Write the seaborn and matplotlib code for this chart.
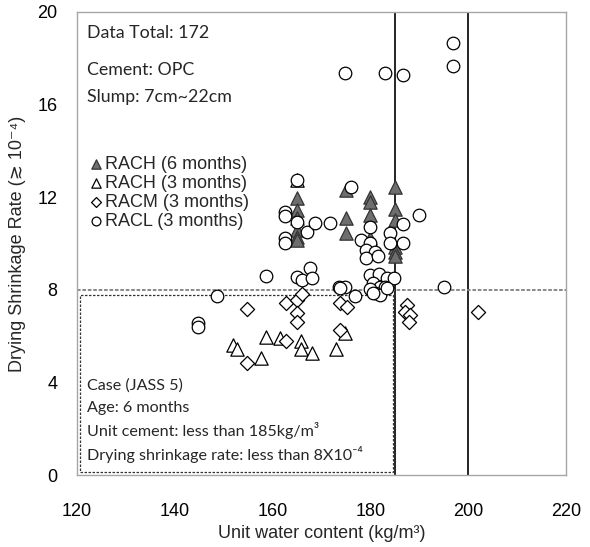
import matplotlib
matplotlib.use("Agg")
import matplotlib.pyplot as plt
import seaborn as sns
import pandas as pd
from matplotlib.patches import Rectangle

# ---------------- data ----------------
rach6_x = [165, 165, 165, 165, 165, 165, 175, 175, 175, 180, 180, 180, 180,
           185, 185, 185, 185, 185, 185]
rach6_y = [11.95, 11.45, 11.1, 10.6, 10.3, 10.15, 12.3, 11.1, 10.45, 12.0, 11.8, 11.23, 10.24,
           12.45, 11.5, 11.0, 9.85, 9.65, 9.45]

rach3_x = [165, 151.8, 152.8, 157.7, 158.7, 161.5, 165.9, 165.9, 168, 172.9, 174.8]
rach3_y = [12.75, 5.6, 5.45, 5.05, 5.95, 5.9, 5.8, 5.45, 5.25, 5.45, 6.15]

racm_x = [154.8, 154.8, 162.8, 162.8, 164.9, 166, 164.9, 164.9, 173.8, 175.2, 173.8,
          187.4, 187.1, 188.1, 187.8, 202]
racm_y = [7.16, 4.85, 7.42, 5.8, 7.56, 7.82, 7.01, 6.6, 7.42, 7.27, 6.26,
          7.34, 7.06, 6.91, 6.62, 7.03]

racl_x = [174.8, 182.9, 186.7, 196.9, 196.9,
          165, 162.5, 162.5, 165, 162.5, 162.5, 167, 168.6, 171.7, 176,
          180, 178, 180, 179.2, 181, 179, 181.5, 186.7, 184, 186.7, 184, 190,
          167.6, 164.9, 166, 168, 158.7, 148.6, 144.7, 144.7, 173.6, 174.8, 176.8,
          173.8, 180, 181.8, 183.3, 184.9, 180.5, 182, 183, 181, 182, 180, 180.6,
          183.3, 195]
racl_y = [17.35, 17.38, 17.28, 18.65, 17.68,
          12.75, 11.37, 11.2, 10.94, 10.24, 10.0, 10.5, 10.9, 10.9, 12.45,
          10.73, 10.15, 10.0, 9.72, 9.65, 9.36, 9.45, 10.84, 10.44, 10.03, 10.03, 11.23,
          8.93, 8.55, 8.42, 8.5, 8.6, 7.73, 6.55, 6.4, 8.13, 8.13, 7.75,
          8.06, 8.64, 8.68, 8.5, 8.52, 8.3, 8.13, 8.13, 7.86, 7.77, 8.03, 7.85,
          8.06, 8.13]

series_labels = ["RACH (6 months)", "RACH (3 months)", "RACM (3 months)", "RACL (3 months)"]

x_ticks = [120, 130, 140, 150, 160, 170, 180, 190, 200, 210, 220]
x_labels = ["120", "", "140", "", "160", "", "180", "", "200", "", "220"]
y_ticks = [0, 2, 4, 6, 8, 10, 12, 14, 16, 18, 20]
y_labels = ["0", "", "4", "", "8", "", "12", "", "16", "", "20"]

limit_water = [185, 200]
limit_shrink = 8

notes_top = ["Data Total: 172", "Cement: OPC", "Slump: 7cm~22cm"]
notes_case = ["Case (JASS 5)", "Age: 6 months",
              "Unit cement: less than 185kg/m³",
              "Drying shrinkage rate: less than 8X10⁻⁴"]

# ---------------- plot ----------------
sns.set_style("white")
plt.rcParams['font.family'] = ['Liberation Sans', 'DejaVu Sans']

fig = plt.figure(figsize=(5.9, 5.47), dpi=100)
ax = fig.add_axes([77 / 590, 1 - 475 / 547, 489 / 590, 463 / 547])

frames = [
    pd.DataFrame({"x": rach6_x, "y": rach6_y}),
    pd.DataFrame({"x": rach3_x, "y": rach3_y}),
    pd.DataFrame({"x": racm_x, "y": racm_y}),
    pd.DataFrame({"x": racl_x, "y": racl_y}),
]
styles = [
    dict(marker="^", s=92, facecolor="#6e6e6e", edgecolor="#333333", linewidth=0.9),
    dict(marker="^", s=92, facecolor="white", edgecolor="black", linewidth=0.9),
    dict(marker="D", s=52, facecolor="white", edgecolor="black", linewidth=0.9),
    dict(marker="o", s=82, facecolor="white", edgecolor="black", linewidth=0.9),
]
draw_order = [2, 1, 3, 0]
for i in draw_order:
    st = styles[i]
    sns.scatterplot(data=frames[i], x="x", y="y", ax=ax, marker=st["marker"], s=st["s"],
                    facecolor=st["facecolor"], edgecolor=st["edgecolor"],
                    linewidth=st["linewidth"], label=series_labels[i], zorder=3 + i * 0.1)

# reference lines
for xv in limit_water:
    ax.axvline(xv, color="black", lw=1.2, zorder=2)
ax.axhline(limit_shrink, color="#7f7f7f", lw=1.3, ls=(0, (2, 1)), zorder=2)
ax.add_patch(Rectangle((120.7, 0.15), 184.6 - 120.7, 7.78 - 0.15, fill=False,
                       edgecolor="#333333", lw=0.9, ls=(0, (2, 1.2)), zorder=2))

ax.set_xlim(120, 220)
ax.set_ylim(0, 20)
ax.set_xticks(x_ticks)
ax.set_xticklabels(x_labels)
ax.set_yticks(y_ticks)
ax.set_yticklabels(y_labels)
ax.tick_params(axis="both", direction="in", length=4, width=0.9, color="#a6a6a6",
               labelsize=13, labelcolor="black")
ax.tick_params(axis="x", pad=20)
ax.tick_params(axis="y", pad=14)
for sp in ax.spines.values():
    sp.set_color("#a6a6a6")
    sp.set_linewidth(1.0)

ax.set_xlabel("Unit water content (kg/m³)", fontsize=13, labelpad=4)
ax.set_ylabel("Drying Shrinkage Rate (≳ 10⁻⁴)", fontsize=13, labelpad=8)

# legend
h, l = ax.get_legend_handles_labels()
order = [l.index(s) for s in series_labels]
leg = ax.legend([h[k] for k in order], [l[k] for k in order], loc="upper left",
                bbox_to_anchor=(0.022, 0.69), frameon=False,
                prop={'family': ['Liberation Sans', 'DejaVu Sans'], 'size': 13},
                handletextpad=0.05, labelspacing=0.12, markerscale=0.7,
                handlelength=0.9, borderaxespad=0, borderpad=0)

cal = ['Lato', 'DejaVu Sans']
for txt, yf in zip(notes_top, [0.955, 0.875, 0.816]):
    ax.text(0.02, yf, txt, transform=ax.transAxes, fontsize=12.8, family=cal,
            va="center", ha="left")
for txt, yf in zip(notes_case, [0.194, 0.145, 0.097, 0.045]):
    ax.text(0.02, yf, txt, transform=ax.transAxes, fontsize=11.6, family=cal,
            va="center", ha="left")

fig.savefig("out.png", dpi=100)
